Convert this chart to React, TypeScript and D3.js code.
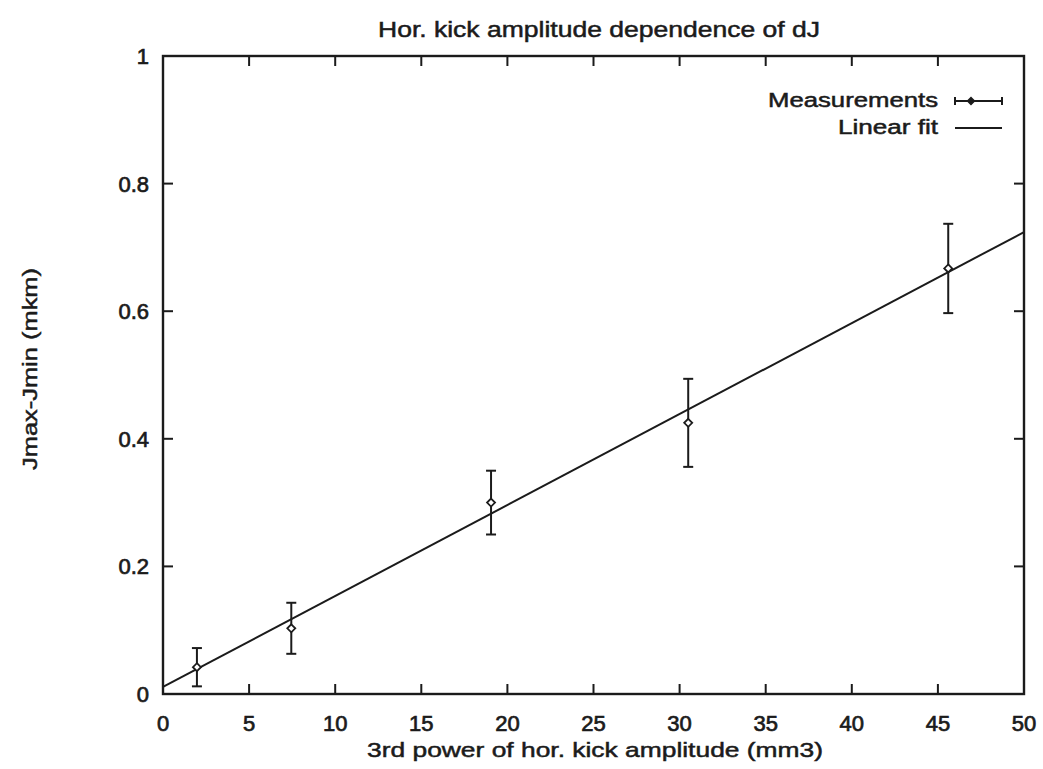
import React from "react";
import * as d3 from "d3";

const xValues = [1.97, 7.45, 19.05, 30.5, 45.6];
const yValues = [0.042, 0.103, 0.3, 0.425, 0.667];
const yErrors = [0.03, 0.04, 0.05, 0.069, 0.07];
const fitIntercept = [0.011];
const fitSlope = [0.01426];
const xTicks = [0, 5, 10, 15, 20, 25, 30, 35, 40, 45, 50];
const yTicks = [0, 0.2, 0.4, 0.6, 0.8, 1];
const yTickLabels = ["0", "0.2", "0.4", "0.6", "0.8", "1"];

const W = 1043;
const H = 769;
const L = 163;
const R = 1024;
const T = 56;
const B = 694;
const FONT = "'Liberation Sans', Arial, Helvetica, sans-serif";
const INK = "#1b1b1b";

export default function App() {
  const x = d3.scaleLinear().domain([0, 50]).range([L, R]);
  const y = d3.scaleLinear().domain([0, 1]).range([B, T]);
  const fitLine = d3
    .line<number>()
    .x((d) => x(d))
    .y((d) => y(fitIntercept[0] + fitSlope[0] * d));
  const tickLen = 10;
  const cap = 5;
  const diamond = (cx: number, cy: number, r: number) =>
    `M${cx},${cy - r}L${cx + r},${cy}L${cx},${cy + r}L${cx - r},${cy}Z`;

  return (
    <svg
      width={W}
      height={H}
      style={{ position: "absolute", left: 0, top: 0, background: "#fff" }}
      fontFamily={FONT}
    >
      <rect x={0} y={0} width={W} height={H} fill="#fff" />
      {/* Title */}
      <text
        x={599}
        y={37}
        textAnchor="middle"
        fontSize={22}
        fill={INK}
        stroke={INK}
        strokeWidth={0.5}
        textLength={442}
        lengthAdjust="spacingAndGlyphs"
      >
        Hor. kick amplitude dependence of dJ
      </text>

      {/* ticks */}
      {xTicks.map((t) => (
        <g key={"xt" + t}>
          {t > 0 && t < 50 && (
            <>
              <line x1={x(t)} x2={x(t)} y1={B} y2={B - tickLen} stroke={INK} strokeWidth={2} />
              <line x1={x(t)} x2={x(t)} y1={T} y2={T + tickLen} stroke={INK} strokeWidth={2} />
            </>
          )}
          <text
            x={x(t)}
            y={731}
            textAnchor="middle"
            fontSize={22}
            fill={INK}
            stroke={INK}
            strokeWidth={0.7}
          >
            {String(t)}
          </text>
        </g>
      ))}
      {yTicks.map((t, i) => (
        <g key={"yt" + t}>
          {t > 0 && t < 1 && (
            <>
              <line x1={L} x2={L + tickLen} y1={y(t)} y2={y(t)} stroke={INK} strokeWidth={2} />
              <line x1={R} x2={R - tickLen} y1={y(t)} y2={y(t)} stroke={INK} strokeWidth={2} />
            </>
          )}
          <text
            x={149}
            y={y(t)}
            dy="0.36em"
            textAnchor="end"
            fontSize={22}
            fill={INK}
            stroke={INK}
            strokeWidth={0.7}
          >
            {yTickLabels[i]}
          </text>
        </g>
      ))}

      {/* Fit line */}
      <path d={fitLine([0, 50]) || ""} fill="none" stroke={INK} strokeWidth={2} />

      {/* Error bars */}
      {xValues.map((xv, i) => {
        const cx = x(xv);
        const yt = y(yValues[i] + yErrors[i]);
        const yb = y(yValues[i] - yErrors[i]);
        const cy = y(yValues[i]);
        return (
          <g key={"p" + i} stroke={INK} strokeWidth={2} fill="none">
            <line x1={cx} x2={cx} y1={yt} y2={yb} />
            <line x1={cx - cap} x2={cx + cap} y1={yt} y2={yt} />
            <line x1={cx - cap} x2={cx + cap} y1={yb} y2={yb} />
            <path d={diamond(cx, cy, 4)} fill="#fff" strokeWidth={1.8} />
          </g>
        );
      })}

      {/* Frame */}
      <rect x={L} y={T} width={R - L} height={B - T} fill="none" stroke={INK} strokeWidth={2.4} />

      {/* Axis labels */}
      <text
        x={595}
        y={757}
        textAnchor="middle"
        fontSize={21}
        fill={INK}
        stroke={INK}
        strokeWidth={0.5}
        textLength={456}
        lengthAdjust="spacingAndGlyphs"
      >
        3rd power of hor. kick amplitude (mm3)
      </text>
      <text
        transform={`translate(37,369) rotate(-90)`}
        textAnchor="middle"
        fontSize={21}
        fill={INK}
        stroke={INK}
        strokeWidth={0.5}
        textLength={202}
        lengthAdjust="spacingAndGlyphs"
      >
        Jmax-Jmin (mkm)
      </text>

      {/* Legend */}
      <text
        x={938}
        y={107}
        textAnchor="end"
        fontSize={20}
        fill={INK}
        stroke={INK}
        strokeWidth={0.5}
        textLength={170}
        lengthAdjust="spacingAndGlyphs"
      >
        Measurements
      </text>
      <text
        x={938}
        y={134}
        textAnchor="end"
        fontSize={20}
        fill={INK}
        stroke={INK}
        strokeWidth={0.5}
        textLength={100}
        lengthAdjust="spacingAndGlyphs"
      >
        Linear fit
      </text>
      <g stroke={INK} strokeWidth={2} fill="none">
        <line x1={955} x2={1002} y1={101} y2={101} />
        <line x1={955} x2={955} y1={97} y2={105} />
        <line x1={1002} x2={1002} y1={97} y2={105} />
        <path d={diamond(971, 101, 3.5)} fill={INK} strokeWidth={1.4} />
        <line x1={955} x2={1002} y1={128} y2={128} />
      </g>
    </svg>
  );
}
